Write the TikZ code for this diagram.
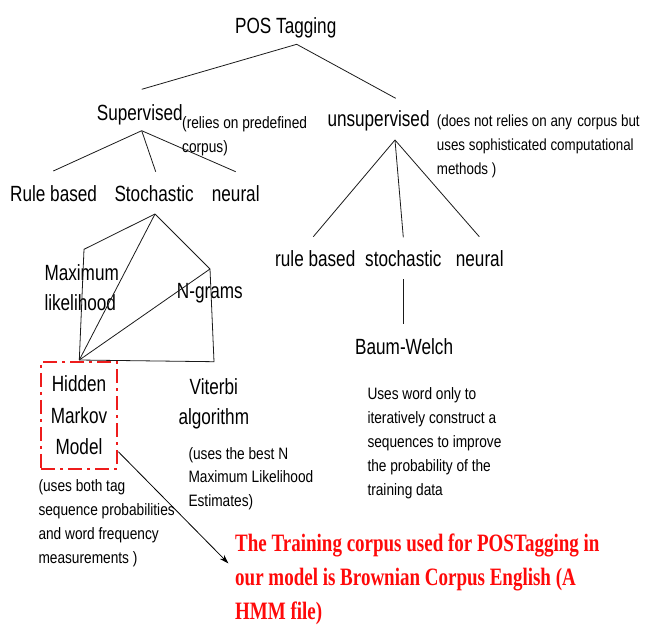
\documentclass[tikz,border=0pt]{standalone}
\usepackage{fontspec}
\usepackage{xcolor}
\usepackage{tikz}
\usetikzlibrary{arrows.meta,positioning}
\setmainfont{Liberation Sans}
\newfontfamily\labelfont[FakeStretch=0.78]{Liberation Sans}
\newfontfamily\notefont[FakeStretch=0.83]{Liberation Sans}
\newfontfamily\corpusfont[FakeStretch=0.76]{Liberation Serif}
\definecolor{branchdraw}{HTML}{1A1A1A}
\definecolor{hmmdraw}{HTML}{EE1C1C}
\definecolor{corpustext}{HTML}{FF0A0A}
\tikzset{
  >=Stealth,
  method label/.style={
    inner sep=0pt,
    anchor=base west,
    align=left,
    font=\labelfont\fontsize{22}{30}\selectfont
  },
  method note/.style={
    inner sep=0pt,
    anchor=base west,
    align=left,
    font=\notefont\fontsize{16.5}{23.8}\selectfont
  },
  branch/.style={
    draw=branchdraw,
    line width=0.8pt
  },
  hmm box/.style={
    draw=hmmdraw,
    line width=2.6pt,
    dash pattern=on 14pt off 5pt on 3pt off 5pt,
    minimum width=76pt,
    minimum height=107pt,
    inner sep=0pt,
    align=center,
    font=\labelfont\fontsize{22}{31.3}\selectfont
  },
  pointer/.style={
    draw=black,
    line width=0.8pt,
    -{Stealth[length=9pt,width=6pt]}
  },
  corpus note/.style={
    inner sep=0pt,
    anchor=base west,
    align=left,
    text=corpustext,
    font=\corpusfont\bfseries\fontsize{25}{33.8}\selectfont
  }
}

\begin{document}
\begin{tikzpicture}[x=1pt,y=-1pt]
  \useasboundingbox (0,0) rectangle (645,625);

  % top level (multi-line nodes sit on their last baseline)
  \node[method label] (pos) at (235,33) {POS Tagging};
  \node[method label] (sup) at (96.7,120) {Supervised};
  \node[method label] (unsup) at (327.3,126.7) {unsupervised};
  \node[method note] (sup-note) at (182,152) {(relies on predefined\\corpus)};
  \node[method note,font=\notefont\fontsize{16.1}{23.8}\selectfont] (unsup-note) at (436.7,174) {(does not relies on any\hspace{1.5pt} corpus but\\uses sophisticated computational\\methods )};

  \coordinate (pos-j) at (296.7,44.3);
  \coordinate (sup-j) at (141.7,89.3);
  \coordinate (unsup-j) at (395.7,98.3);
  \draw[branch] (sup-j) -- (pos-j) -- (unsup-j);

  % supervised branch
  \node[method label] (s-rule) at (10,201.7) {Rule based};
  \node[method label] (s-stoch) at (114.3,201.7) {Stochastic};
  \node[method label] (s-neural) at (211.7,201.7) {neural};

  \coordinate (sup-top) at (141.7,130.7);
  \coordinate (s-rule-j) at (53.3,171);
  \coordinate (s-stoch-j) at (155.7,171.7);
  \coordinate (s-neural-j) at (235.7,171.7);
  \draw[branch] (sup-top) -- (s-rule-j);
  \draw[branch] (sup-top) -- (s-stoch-j);
  \draw[branch] (sup-top) -- (s-neural-j);

  % unsupervised branch
  \node[method label] (u-rule) at (275,266.7) {rule based};
  \node[method label] (u-stoch) at (365,266.7) {stochastic};
  \node[method label] (u-neural) at (455.7,266.7) {neural};

  \coordinate (unsup-top) at (395,140);
  \coordinate (u-rule-j) at (313.3,236.7);
  \coordinate (u-stoch-j) at (403.3,237.3);
  \coordinate (u-neural-j) at (479.3,236.7);
  \draw[branch] (unsup-top) -- (u-rule-j);
  \draw[branch] (unsup-top) -- (u-stoch-j);
  \draw[branch] (unsup-top) -- (u-neural-j);

  \node[method label] (baum) at (355,354) {Baum-Welch};
  \coordinate (u-stoch-b) at (403.3,279.3);
  \coordinate (baum-j) at (403.3,324);
  \draw[branch] (u-stoch-b) -- (baum-j);
  \node[method note] (baum-note) at (367.3,495) {Uses word only to\\iteratively construct a\\sequences to improve\\the probability of the\\training data};

  % stochastic sub-methods
  \node[method label] (maxlik) at (44.3,310) {Maximum\\likelihood};
  \node[method label] (ngram) at (176.7,298.3) {N-grams};
  \node[method label,align=center] (viterbi) at (178.3,424) {Viterbi\\algorithm};
  \node[hmm box] (hmm) at (79,415.3) {Hidden\\Markov\\Model};

  \coordinate (stoch-j) at (155,214);
  \coordinate (maxlik-j) at (84,249.3);
  \coordinate (ngram-j) at (210,269);
  \coordinate (hmm-j) at (79.3,360);
  \coordinate (viterbi-j) at (214,361.7);
  \draw[branch] (stoch-j) -- (maxlik-j) -- (hmm-j);
  \draw[branch] (stoch-j) -- (hmm-j);
  \draw[branch] (stoch-j) -- (ngram-j) -- (viterbi-j) -- (hmm-j);
  \draw[branch] (ngram-j) -- (hmm-j);

  \node[method note] (viterbi-note) at (188.3,506.7) {(uses the best N\\Maximum Likelihood\\Estimates)};
  \node[method note] (hmm-note) at (38.3,563.3) {(uses both tag\\sequence probabilities\\and word frequency\\measurements )};

  % training corpus
  \node[corpus note] (corpus) at (235,619.3) {The Training corpus used for POSTagging in\\our model is Brownian Corpus English (A\\HMM file)};
  \coordinate (corpus-tip) at (228.3,563.3);
  \draw[pointer] ([yshift=-36.4pt]hmm.east) -- (corpus-tip);
\end{tikzpicture}
\end{document}
